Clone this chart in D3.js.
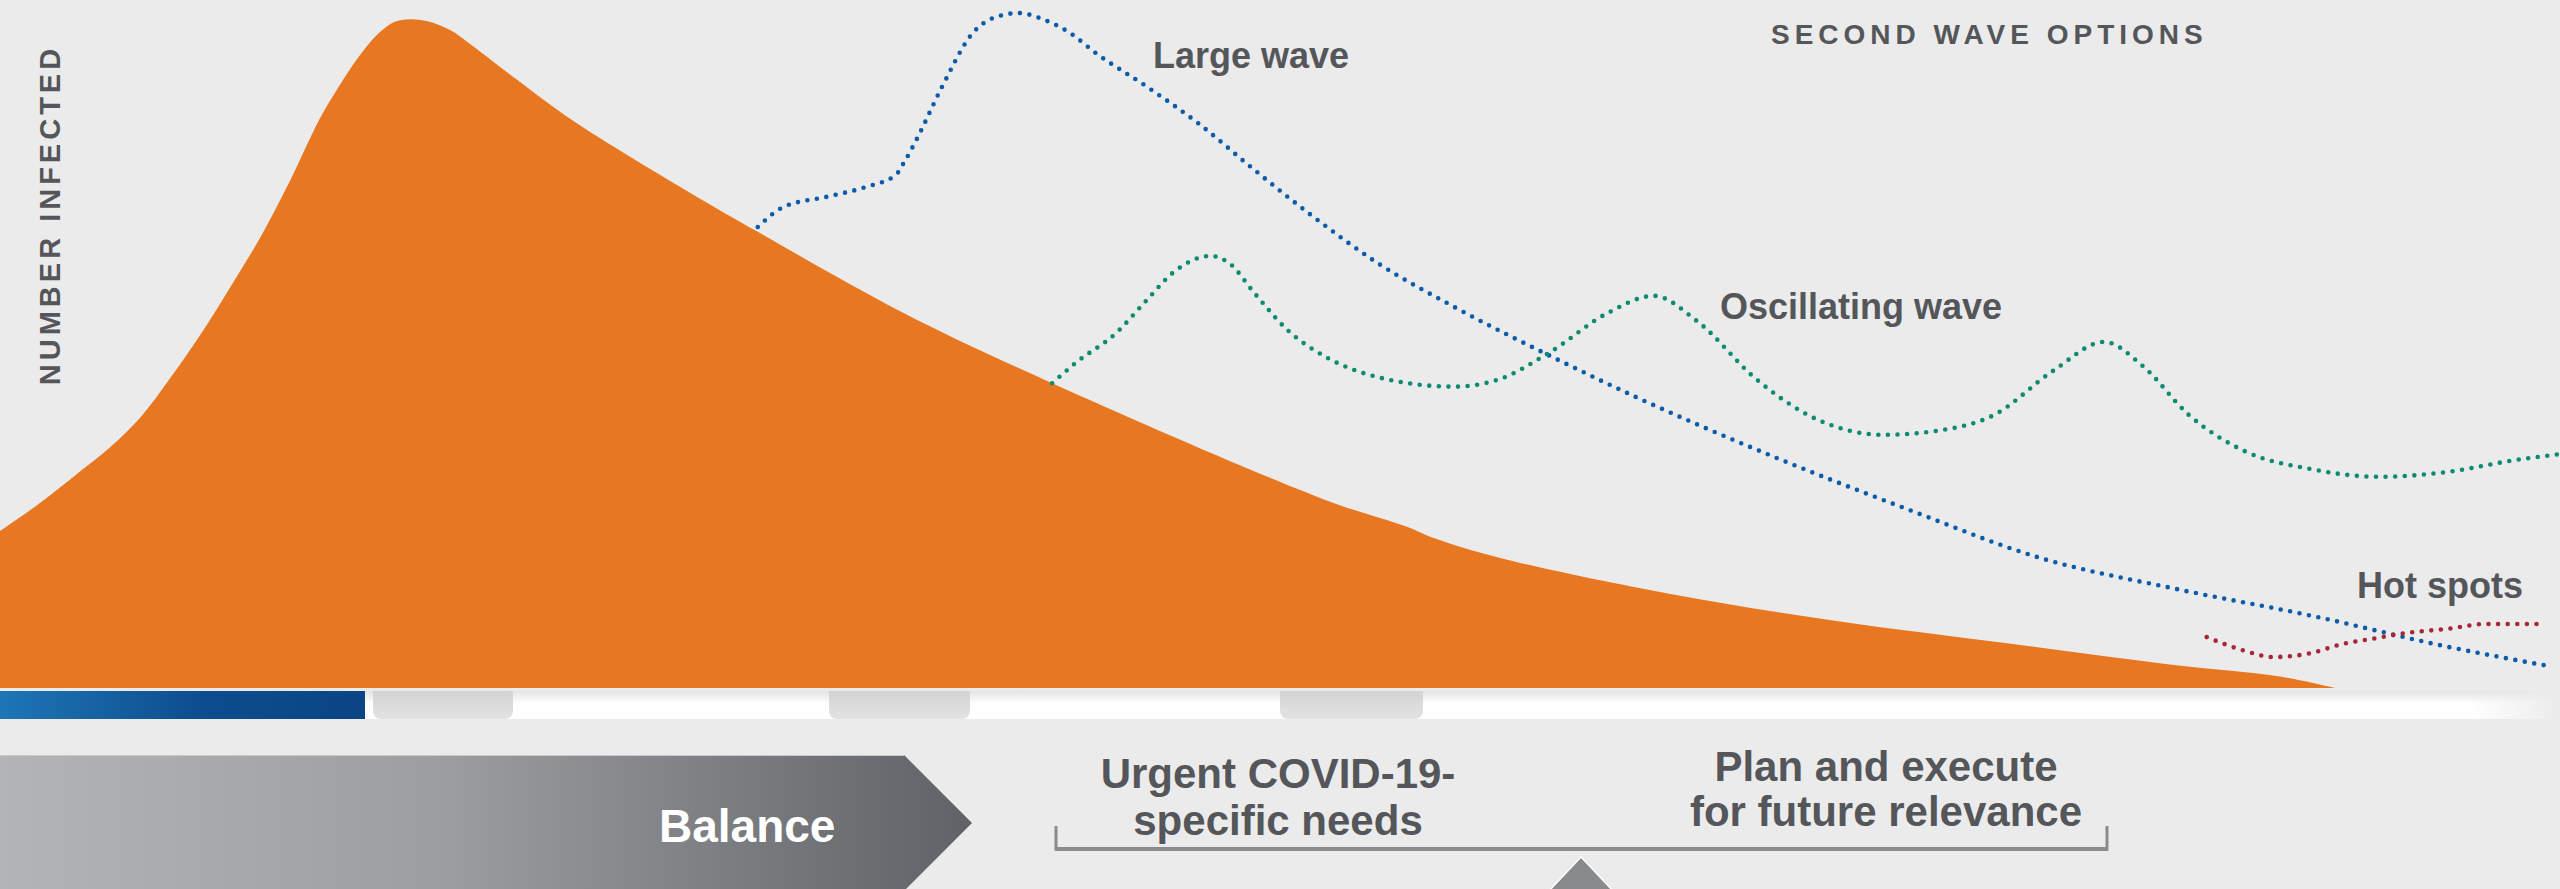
<!DOCTYPE html>
<html>
<head>
<meta charset="utf-8">
<script src="https://cdn.jsdelivr.net/npm/d3@7"></script>
<style>
  body { margin: 0; background: #ebebeb; overflow: hidden; }
  svg { display: block; }
  text { font-family: "Liberation Sans", Arial, Helvetica, sans-serif; font-weight: bold; }
</style>
</head>
<body>
<div id="chart"></div>
<script>

// time runs 0..100, number infected is relative 0..100
var firstWave = [
  [0, 22.8], [1.6, 27.0], [3.1, 31.4], [4.3, 35.0], [5.5, 39.4], [6.6, 44.8],
  [7.8, 51.2], [9.0, 58.3], [10.2, 65.7], [11.3, 73.5], [12.5, 82.8],
  [13.3, 87.8], [14.1, 92.2], [14.8, 95.2], [15.4, 96.8], [16.0, 97.2],
  [16.7, 96.9], [17.6, 95.6], [18.4, 93.5],
  [20.2, 88.4], [22.4, 82.4], [26.9, 72.1], [29.6, 66.3], [35.2, 54.7],
  [41.1, 44.3], [51.8, 27.3], [54.9, 23.5], [56.0, 21.8], [58.6, 18.9],
  [65.2, 13.7], [71.8, 9.7], [78.4, 6.5], [85.0, 3.3], [89.0, 1.7], [91.2, 0]
];

var largeWave = [
  [29.6, 67.0], [30.6, 69.9], [32.3, 71.4], [33.8, 72.8], [35.0, 74.6],
  [35.3, 76.3], [35.8, 79.7], [36.8, 87.4], [38.0, 95.2], [38.8, 97.4],
  [39.8, 98.1], [40.8, 97.1], [41.8, 95.2], [42.8, 92.3], [44.8, 87.4],
  [46.8, 82.1], [49.0, 75.3], [51.3, 68.5], [53.8, 61.8], [56.8, 55.4],
  [60.7, 48.0], [63.9, 42.3], [69.1, 33.9], [74.5, 26.0], [79.7, 18.9],
  [85.0, 14.4], [90.3, 10.5], [95.6, 6.0], [99.4, 3.3]
];

var oscillatingWave = [
  [41.1, 44.3], [42.0, 47.2], [43.6, 51.6], [44.8, 56.4], [45.8, 60.3],
  [47.3, 62.8], [48.0, 61.8], [49.0, 57.4], [50.3, 52.0], [51.8, 48.1],
  [53.8, 45.2], [56.8, 43.8], [58.5, 44.8], [60.5, 48.7], [62.8, 54.5],
  [64.6, 57.0], [66.3, 53.3], [68.6, 44.9], [71.0, 39.0], [73.6, 36.8],
  [75.7, 37.4], [77.9, 39.7], [80.2, 46.1], [82.2, 50.3], [83.7, 46.8],
  [85.5, 39.7], [87.7, 34.4], [90.3, 31.8], [92.9, 30.7], [95.6, 31.4],
  [98.2, 33.1], [100, 34.0]
];

var hotSpots = [
  [86.2, 7.4], [87.6, 5.5], [88.8, 4.5], [90.3, 5.1], [91.4, 6.3],
  [92.9, 7.3], [94.0, 8.0], [95.6, 8.6], [97.1, 9.3], [99.4, 9.3]
];

var waveNames = ["Large wave", "Oscillating wave", "Hot spots"];
var yTitle = "NUMBER INFECTED";
var optionsTitle = "SECOND WAVE OPTIONS";
var balanceLabel = "Balance";
var leftNeeds = ["Urgent COVID-19-", "specific needs"];
var rightNeeds = ["Plan and execute", "for future relevance"];


var W = 2560, H = 889;
var BASE = 688;
var textGray = "#54565a";

var svg = d3.select("#chart")
  .append("svg")
  .attr("width", W)
  .attr("height", H);

var x = d3.scaleLinear().domain([0, 100]).range([0, W]);
var y = d3.scaleLinear().domain([0, 100]).range([BASE, 0]);

var defs = svg.append("defs");

function gradient(id, stops, vertical) {
  var g = defs.append("linearGradient")
    .attr("id", id)
    .attr("x1", 0).attr("y1", 0)
    .attr("x2", vertical ? 0 : 1).attr("y2", vertical ? 1 : 0);
  stops.forEach(function(s) {
    g.append("stop").attr("offset", s[0]).attr("stop-color", s[1])
      .attr("stop-opacity", s[2] == null ? 1 : s[2]);
  });
}

gradient("blueBar", [[0, "#1e76b5"], [0.55, "#0d4d8d"], [1, "#0a4584"]]);
gradient("stripShade", [[0, "#e4e4e4"], [0.45, "#ffffff"], [1, "#ffffff"]], true);
gradient("stripFade", [[0, "#ebebeb", 0], [1, "#ebebeb", 1]]);
gradient("tabFill", [[0, "#d3d3d3"], [1, "#e3e3e3"]], true);
gradient("chevron", [[0, "#b3b4b5"], [0.45, "#9d9ea0"], [1, "#5f6266"]]);

// timeline strip under the curve
svg.append("rect")
  .attr("x", 0).attr("y", 691)
  .attr("width", W).attr("height", 28)
  .attr("fill", "url(#stripShade)");
svg.append("rect")
  .attr("x", 2470).attr("y", 691)
  .attr("width", 90).attr("height", 28)
  .attr("fill", "url(#stripFade)");
svg.append("rect")
  .attr("x", 0).attr("y", 691)
  .attr("width", 365).attr("height", 28)
  .attr("fill", "url(#blueBar)");

[[373, 513], [829, 970], [1280, 1423]].forEach(function(t) {
  var r = 9, top = 691, bot = 719;
  svg.append("path")
    .attr("d", "M" + t[0] + "," + top + "H" + t[1] + "V" + (bot - r) +
      "Q" + t[1] + "," + bot + " " + (t[1] - r) + "," + bot +
      "H" + (t[0] + r) + "Q" + t[0] + "," + bot + " " + t[0] + "," + (bot - r) + "Z")
    .attr("fill", "url(#tabFill)");
});

// first wave
var area = d3.area()
  .x(function(d) { return x(d[0]); })
  .y0(y(0))
  .y1(function(d) { return y(d[1]); })
  .curve(d3.curveCatmullRom.alpha(0.5));

svg.append("path")
  .datum(firstWave)
  .attr("d", area)
  .attr("fill", "#e87722");

// second wave options
var line = d3.line()
  .x(function(d) { return x(d[0]); })
  .y(function(d) { return y(d[1]); })
  .curve(d3.curveMonotoneX);

var waves = [
  { data: largeWave, color: "#0b5ba9" },
  { data: oscillatingWave, color: "#0e8a72" },
  { data: hotSpots, color: "#a82638" }
];

waves.forEach(function(w) {
  svg.append("path")
    .datum(w.data)
    .attr("d", line)
    .attr("fill", "none")
    .attr("stroke", w.color)
    .attr("stroke-width", 4.6)
    .attr("stroke-linecap", "round")
    .attr("stroke-dasharray", "0 9.6");
});

var labelPos = [[1153, 68], [1720, 319], [2357, 598]];
waveNames.forEach(function(name, i) {
  svg.append("text")
    .attr("x", labelPos[i][0])
    .attr("y", labelPos[i][1])
    .attr("font-size", 36)
    .attr("fill", textGray)
    .text(name);
});

svg.append("text")
  .attr("transform", "translate(60,215) rotate(-90)")
  .attr("text-anchor", "middle")
  .attr("font-size", 29)
  .attr("letter-spacing", 4)
  .attr("fill", textGray)
  .text(yTitle);

svg.append("text")
  .attr("x", 1771)
  .attr("y", 44)
  .attr("font-size", 28)
  .attr("letter-spacing", 5)
  .attr("fill", textGray)
  .text(optionsTitle);

// balance section
svg.append("path")
  .attr("d", "M0,755H904L972,823L904,891H0Z")
  .attr("fill", "url(#chevron)");
svg.append("line")
  .attr("x1", 0).attr("x2", 904)
  .attr("y1", 755.5).attr("y2", 755.5)
  .attr("stroke", "#c9c9ca")
  .attr("stroke-width", 1);

svg.append("text")
  .attr("x", 659)
  .attr("y", 842)
  .attr("font-size", 46)
  .attr("fill", "#ffffff")
  .text(balanceLabel);

function twoLines(lines, cx, baselines) {
  lines.forEach(function(s, i) {
    svg.append("text")
      .attr("x", cx)
      .attr("y", baselines[i])
      .attr("text-anchor", "middle")
      .attr("font-size", 42)
      .attr("fill", textGray)
      .text(s);
  });
}
twoLines(leftNeeds, 1278, [788, 835]);
twoLines(rightNeeds, 1886, [781, 826]);

// the scale beam and fulcrum
var beam = svg.append("g").attr("stroke", "#898b8d").attr("fill", "none");
beam.append("path")
  .attr("d", "M1056,826V849H2107V826")
  .attr("stroke-width", 3);
beam.append("line")
  .attr("x1", 1055).attr("x2", 2108)
  .attr("y1", 849).attr("y2", 849)
  .attr("stroke-width", 4);

svg.append("path")
  .attr("d", "M1581,857L1547,893H1615Z")
  .attr("fill", "#888a8c")
  .attr("stroke", "#ffffff")
  .attr("stroke-width", 1.5);

</script>
</body>
</html>
